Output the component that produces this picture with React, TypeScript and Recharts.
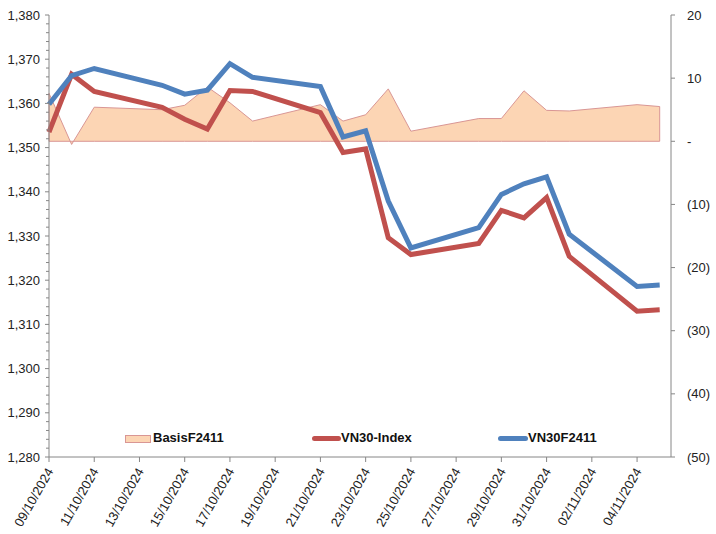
import { ComposedChart, Line, Area, XAxis, YAxis, ReferenceLine } from 'recharts'

const dates = [
  '09/10/2024', '10/10/2024', '11/10/2024', '14/10/2024', '15/10/2024',
  '16/10/2024', '17/10/2024', '18/10/2024', '21/10/2024', '22/10/2024',
  '23/10/2024', '24/10/2024', '25/10/2024', '28/10/2024', '29/10/2024',
  '30/10/2024', '31/10/2024', '01/11/2024', '04/11/2024', '05/11/2024',
]
const vn30Index = [
  1353.5, 1366.6, 1362.7, 1359.1, 1356.4, 1354.2, 1362.9, 1362.7, 1357.9, 1348.9,
  1349.7, 1329.6, 1325.8, 1328.3, 1335.8, 1334.1, 1338.7, 1325.4, 1313.0, 1313.3,
]
const vn30F2411 = [
  1359.8, 1366.3, 1367.9, 1364.1, 1362.1, 1363.0, 1369.0, 1365.9, 1363.8, 1352.4,
  1353.8, 1337.9, 1327.3, 1331.9, 1339.4, 1341.8, 1343.4, 1330.4, 1318.6, 1318.9,
]
const basisF2411 = [
  7.6, -0.5, 5.4, 5.0, 5.7, 8.6, 6.1, 3.2, 5.8, 3.2,
  4.2, 8.3, 1.6, 3.6, 3.6, 8.0, 4.9, 4.8, 5.8, 5.5,
]
const xTickLabels = [
  '09/10/2024', '11/10/2024', '13/10/2024', '15/10/2024', '17/10/2024',
  '19/10/2024', '21/10/2024', '23/10/2024', '25/10/2024', '27/10/2024',
  '29/10/2024', '31/10/2024', '02/11/2024', '04/11/2024',
]
const leftMajorTicks = [1280, 1290, 1300, 1310, 1320, 1330, 1340, 1350, 1360, 1370, 1380]
const rightTicks = [-50, -40, -30, -20, -10, 0, 10, 20]

const AXIS = '#868686'
const FONT = '"Liberation Sans", Arial, sans-serif'

const dayOf = (s: string) => {
  const [d, m, y] = s.split('/').map(Number)
  return Date.UTC(y, m - 1, d) / 86400000
}
const day0 = dayOf(dates[0])
const toX = (s: string) => dayOf(s) - day0

const data = dates.map((d, i) => ({
  x: toX(d),
  date: d,
  vn30: vn30Index[i],
  f2411: vn30F2411[i],
  basis: basisF2411[i],
}))

const xTicks = xTickLabels.map(toX)
const leftTicks: number[] = []
for (let v = leftMajorTicks[0]; v <= leftMajorTicks[leftMajorTicks.length - 1]; v += 2) leftTicks.push(v)

function LeftTick({ x, y, payload }: any) {
  const v = payload.value as number
  const major = v % 10 === 0
  return (
    <g>
      <line x1={x - (major ? 4 : 3)} x2={x} y1={y} y2={y} stroke={AXIS} />
      {major && (
        <text x={x - 9} y={y} dy="0.35em" textAnchor="end" fontSize={13} fill="#222" fontFamily={FONT}>
          {v.toLocaleString('en-US')}
        </text>
      )}
    </g>
  )
}

function RightTick({ x, y, payload }: any) {
  const v = payload.value as number
  const label = v === 0 ? '-' : v < 0 ? `(${Math.abs(v)})` : `${v}`
  return (
    <g>
      <line x1={x} x2={x + 4} y1={y} y2={y} stroke={AXIS} />
      <text x={x + 16} y={y} dy="0.35em" textAnchor="start" fontSize={13} fill="#222" fontFamily={FONT}>
        {label}
      </text>
    </g>
  )
}

function DateTick({ x, y, payload, index }: any) {
  return (
    <g>
      <line x1={x} x2={x} y1={y} y2={y + 5} stroke={AXIS} />
      <g transform={`translate(${x + 1},${y + 12}) rotate(-60)`}>
        <text x={0} y={0} dy="0.35em" textAnchor="end" fontSize={13} fill="#222" fontFamily={FONT}>
          {xTickLabels[index] ?? payload.value}
        </text>
      </g>
    </g>
  )
}

function ChartLegend() {
  const text = { position: 'absolute' as const, top: 0, fontSize: 13, fontWeight: 700, fontFamily: FONT, color: '#111', lineHeight: '18px' }
  return (
    <div style={{ position: 'absolute', left: 0, top: 429, height: 18, width: 716 }}>
      <div style={{ position: 'absolute', left: 125, top: 6, width: 24, height: 6, background: '#FCD5B4', border: '1px solid #D99694' }} />
      <span style={{ ...text, left: 153 }}>BasisF2411</span>
      <div style={{ position: 'absolute', left: 312, top: 7, width: 29, height: 5, borderRadius: 3, background: '#C0504D' }} />
      <span style={{ ...text, left: 341 }}>VN30-Index</span>
      <div style={{ position: 'absolute', left: 498, top: 7, width: 30, height: 5, borderRadius: 3, background: '#4F81BD' }} />
      <span style={{ ...text, left: 528 }}>VN30F2411</span>
    </div>
  )
}

export default function App() {
  const first = data[0]
  const last = data[data.length - 1]
  return (
    <div style={{ position: 'absolute', left: 0, top: 0, width: 716, height: 534, background: '#fff' }}>
      <ComposedChart width={716} height={534} data={data} margin={{ top: 15, right: 0, bottom: 0, left: 0 }}>
        <XAxis
          dataKey="x"
          type="number"
          domain={[0, 27.5]}
          ticks={xTicks}
          interval={0}
          height={77}
          stroke={AXIS}
          tickLine={false}
          tickSize={0}
          tickMargin={0}
          tick={<DateTick />}
        />
        <YAxis
          yAxisId="left"
          domain={[1280, 1380]}
          ticks={leftTicks}
          interval={0}
          width={49}
          stroke={AXIS}
          tickLine={false}
          tickSize={0}
          tickMargin={0}
          tick={<LeftTick />}
        />
        <YAxis
          yAxisId="right"
          orientation="right"
          domain={[-50, 20]}
          ticks={rightTicks}
          interval={0}
          width={45}
          stroke={AXIS}
          tickLine={false}
          tickSize={0}
          tickMargin={0}
          tick={<RightTick />}
        />
        <Area
          yAxisId="right"
          type="linear"
          dataKey={(d: any) => [0, d.basis]}
          fill="#FCD5B4"
          fillOpacity={1}
          stroke="#D99694"
          strokeWidth={1}
          isAnimationActive={false}
          name="BasisF2411"
        />
        <ReferenceLine
          yAxisId="right"
          segment={[{ x: first.x, y: 0 }, { x: first.x, y: first.basis }]}
          stroke="#D99694"
          ifOverflow="visible"
        />
        <ReferenceLine
          yAxisId="right"
          segment={[{ x: last.x, y: 0 }, { x: last.x, y: last.basis }]}
          stroke="#D99694"
          ifOverflow="visible"
        />
        <Line
          yAxisId="left"
          type="linear"
          dataKey="vn30"
          stroke="#C0504D"
          strokeWidth={5}
          dot={false}
          isAnimationActive={false}
          name="VN30-Index"
        />
        <Line
          yAxisId="left"
          type="linear"
          dataKey="f2411"
          stroke="#4F81BD"
          strokeWidth={5}
          dot={false}
          isAnimationActive={false}
          name="VN30F2411"
        />
      </ComposedChart>
      <ChartLegend />
    </div>
  )
}
